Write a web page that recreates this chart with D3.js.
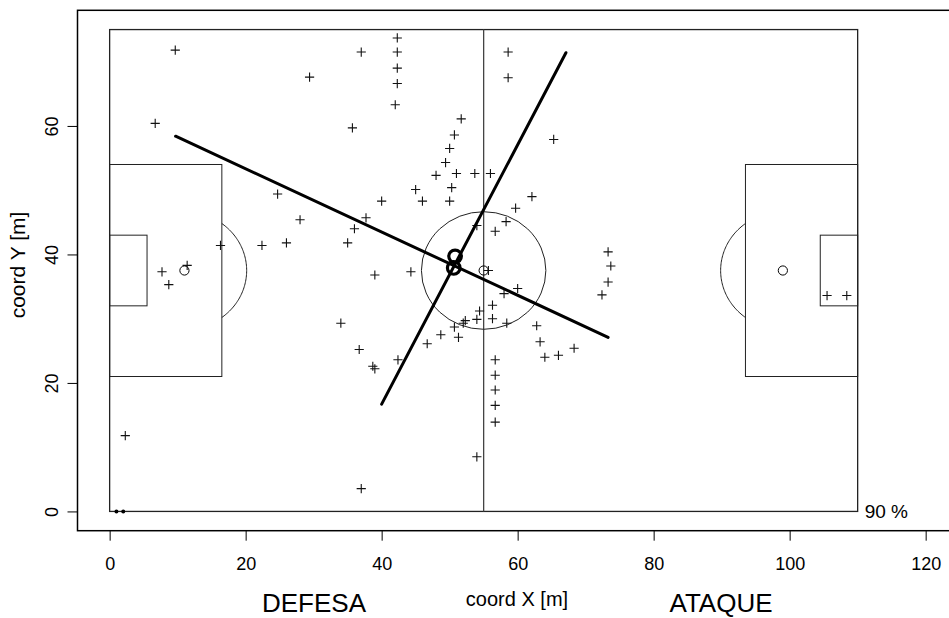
<!DOCTYPE html>
<html>
<head>
<meta charset="utf-8">
<script src="https://cdn.jsdelivr.net/npm/d3@7"></script>
<style>
  html, body { margin: 0; padding: 0; background: #fff; }
  svg { display: block; }
  text { font-family: "Liberation Sans", Arial, Helvetica, sans-serif; fill: #000; }
</style>
</head>
<body>
<svg id="chart" width="949" height="618"></svg>
<script>
// ---- data ----
const pointsX = [9.65, 6.7, 29.4, 37.0, 35.7, 42.3, 42.3, 42.3, 42.3, 42.0,
  58.6, 58.6, 51.7, 50.7, 50.0, 49.4, 48.0, 51.0, 53.7, 56.0,
  45.0, 46.0, 50.3, 50.0, 62.1, 59.7, 58.3, 56.7, 54.0, 73.3,
  73.7, 73.3, 72.4, 65.3, 24.7, 28.0, 22.4, 26.0, 16.3, 35.0,
  36.0, 37.7, 40.0, 7.7, 8.7, 11.4, 2.3, 39.0, 44.3, 34.0,
  36.7, 38.7, 39.0, 42.4, 46.7, 48.7, 51.3, 50.7, 52.0, 52.3,
  54.0, 54.4, 56.3, 56.3, 58.4, 58.0, 60.0, 55.7, 62.8, 63.3,
  64.0, 66.0, 68.3, 56.7, 56.7, 56.7, 56.7, 56.7, 54.0, 37.0,
  105.5, 108.4];
const pointsY = [71.8, 60.4, 67.6, 71.5, 59.7, 73.7, 71.5, 69.0, 66.6, 63.3,
  71.5, 67.5, 61.1, 58.6, 56.5, 54.3, 52.3, 52.6, 52.6, 52.6,
  50.1, 48.3, 50.4, 48.3, 49.0, 47.2, 45.1, 43.6, 44.5, 40.4,
  38.2, 35.7, 33.7, 57.9, 49.4, 45.4, 41.4, 41.8, 41.4, 41.8,
  44.0, 45.7, 48.3, 37.3, 35.3, 38.3, 11.8, 36.8, 37.3, 29.3,
  25.2, 22.6, 22.2, 23.6, 26.1, 27.5, 27.1, 28.7, 29.3, 29.7,
  29.9, 31.2, 30.0, 32.1, 29.3, 33.9, 34.7, 37.5, 28.9, 26.4,
  24.0, 24.3, 25.4, 23.6, 21.2, 18.9, 16.5, 13.9, 8.5, 3.55,
  33.6, 33.6];
// principal axes (segments) : [x1, y1, x2, y2]
const axisSegments = [
  [9.7, 58.4, 73.3, 27.1],
  [40.0, 16.7, 67.1, 71.4]
];
// centre markers ("8")
const centreX = [50.8, 50.6];
const centreY = [39.7, 37.9];
// small dots on the goal line
const dotsX = [1.0, 2.0];
const dotsY = [0, 0];
const xTicks = [0, 20, 40, 60, 80, 100, 120];
const yTicks = [0, 20, 40, 60];
const fieldLength = 110, fieldWidth = 75;
const xLabel = "coord X [m]", yLabel = "coord Y [m]";
const leftLabel = "DEFESA", rightLabel = "ATAQUE", pctLabel = "90 %";

// ---- scales ----
const x = d3.scaleLinear().domain([-4.8, 124.8]).range([77.0, 958.3]);
const y = d3.scaleLinear().domain([-3, 78]).range([530.7, 10.3]);
const svg = d3.select("#chart");

// ---- field ----
const field = svg.append("g").attr("fill", "none").attr("stroke", "#222").attr("stroke-width", 1);
function rect(x0, y0, x1, y1, w) {
  field.append("rect")
    .attr("x", x(x0)).attr("y", y(y1))
    .attr("width", x(x1) - x(x0)).attr("height", y(y0) - y(y1))
    .attr("stroke-width", w || 1);
}
const cy = fieldWidth / 2;
rect(0, 0, fieldLength, fieldWidth, 1.3);
field.append("line").attr("x1", x(fieldLength / 2)).attr("x2", x(fieldLength / 2))
  .attr("y1", y(0)).attr("y2", y(fieldWidth)).attr("stroke", "#444").attr("stroke-width", 1.3);
rect(0, cy - 16.5, 16.5, cy + 16.5);
rect(0, cy - 5.5, 5.5, cy + 5.5);
rect(fieldLength - 16.5, cy - 16.5, fieldLength, cy + 16.5);
rect(fieldLength - 5.5, cy - 5.5, fieldLength, cy + 5.5);
const rC = 9.15;
field.append("ellipse").attr("cx", x(fieldLength / 2)).attr("cy", y(cy))
  .attr("rx", x(rC) - x(0)).attr("ry", y(0) - y(rC));
// penalty arcs
function arc(spotX, dir) {
  const a0 = Math.acos(5.5 / rC);
  const pts = d3.range(-a0, a0 + 1e-9, a0 / 40).map(t => [x(spotX + dir * rC * Math.cos(t)), y(cy + rC * Math.sin(t))]);
  field.append("path").attr("d", d3.line()(pts));
}
arc(11, 1);
arc(fieldLength - 11, -1);
// spots
[[11, cy], [fieldLength / 2, cy], [fieldLength - 11, cy]].forEach(p => {
  field.append("circle").attr("cx", x(p[0])).attr("cy", y(p[1])).attr("r", 4.6).attr("stroke", "#000");
});
svg.append("g").selectAll("circle").data(dotsX).join("circle")
  .attr("cx", (d, i) => x(d)).attr("cy", (d, i) => y(dotsY[i])).attr("r", 2).attr("fill", "#000");

// ---- points ----
const s = 4.6;
svg.append("g").attr("stroke", "#111").attr("stroke-width", 1.1)
  .selectAll("path").data(pointsX).join("path")
  .attr("d", (d, i) => {
    const px = x(d), py = y(pointsY[i]);
    return `M${px - s},${py}H${px + s}M${px},${py - s}V${py + s}`;
  });

// ---- axes segments ----
svg.append("g").attr("stroke", "#000").attr("stroke-width", 3).attr("stroke-linecap", "round")
  .selectAll("line").data(axisSegments).join("line")
  .attr("x1", d => x(d[0])).attr("y1", d => y(d[1]))
  .attr("x2", d => x(d[2])).attr("y2", d => y(d[3]));
svg.append("g").attr("stroke", "#000").attr("stroke-width", 3.2).attr("fill", "none")
  .selectAll("circle").data(centreX).join("circle")
  .attr("cx", d => x(d)).attr("cy", (d, i) => y(centreY[i])).attr("r", 6.3);

// ---- box & axes ----
svg.append("rect").attr("x", 77.5).attr("y", 10.3).attr("width", 958.3 - 77.5).attr("height", 530.7 - 10.3)
  .attr("fill", "none").attr("stroke", "#000").attr("stroke-width", 1.5);

const xAxis = d3.axisBottom(x).tickValues(xTicks).tickSize(10).tickPadding(17).tickFormat(d3.format("d"));
const gx = svg.append("g").attr("transform", "translate(0,530.7)").call(xAxis);
gx.select(".domain").remove();
gx.selectAll("text").attr("font-size", 18).attr("font-family", "Liberation Sans, Arial, sans-serif");

const yAxis = d3.axisLeft(y).tickValues(yTicks).tickSize(10).tickFormat(d3.format("d"));
const gy = svg.append("g").attr("transform", "translate(77.5,0)").call(yAxis);
gy.select(".domain").remove();
gy.selectAll("text")
  .attr("font-size", 18).attr("font-family", "Liberation Sans, Arial, sans-serif")
  .attr("text-anchor", "middle").attr("dy", null).attr("x", null)
  .attr("transform", "translate(-19.5,0) rotate(-90)");

// ---- labels ----
svg.append("text").attr("x", 517).attr("y", 606).attr("text-anchor", "middle").attr("font-size", 20).text(xLabel);
svg.append("text").attr("transform", "translate(25,265) rotate(-90)").attr("text-anchor", "middle").attr("font-size", 21).text(yLabel);
svg.append("text").attr("x", 314).attr("y", 612).attr("text-anchor", "middle").attr("font-size", 26).text(leftLabel);
svg.append("text").attr("x", 721).attr("y", 612).attr("text-anchor", "middle").attr("font-size", 26).text(rightLabel);
svg.append("text").attr("x", x(fieldLength) + 7).attr("y", y(0) + 7).attr("font-size", 19).text(pctLabel);
</script>
</body>
</html>
